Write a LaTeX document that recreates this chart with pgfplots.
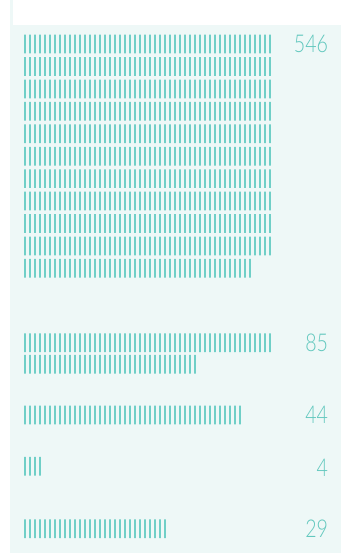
\documentclass[border=0pt]{standalone}
\usepackage{pgfplots}
\pgfplotsset{compat=1.18}
\usepackage{pgfplotstable}
\usepackage{fontspec}
\setmainfont{Lato}[UprightFont=* Light, FakeStretch=0.8]
\usetikzlibrary{patterns.meta,calc}

\definecolor{panel}{HTML}{EEF8F7}
\definecolor{markc}{HTML}{6FCFC7}
\definecolor{numc}{HTML}{62C8BE}

% one line per row of tally marks: row centre (px from top), marks in the row
% 546 = 10x50 + 46, 85 = 50 + 35
\pgfplotstableread{
y n
44.0 50
66.4 50
88.9 50
111.3 50
133.7 50
156.2 50
178.6 50
201.0 50
223.4 50
245.9 50
268.3 46
342.7 50
364.2 35
415.0 44
466.3 4
528.8 29
}\rows

% totals shown on the right
\pgfplotstableread{
x y total
61.24 43.9 546
61.24 342.6 85
61.24 415.3 44
61.24 467.5 4
61.24 529.0 29
}\totals

\begin{document}
\begin{tikzpicture}
\begin{axis}[
    scale only axis,
    width=331pt, height=527.5pt,
    xmin=-2.42, xmax=63.78,
    ymin=25, ymax=552.5,
    y dir=reverse,
    axis line style={draw=none},
    xtick=\empty, ytick=\empty,
    axis background/.style={fill=panel},
    clip=false,
]
\addplot[xbar, bar width=18.7pt, draw=none,
    pattern={Lines[angle=90, distance=5pt, line width=1.9pt, xshift=4.6pt]},
    pattern color=markc]
    table[x=n, y=y] {\rows};
\addplot[draw=none, mark=none, nodes near coords,
    point meta=explicit symbolic,
    every node near coord/.style={anchor=east, inner sep=0pt, text=numc,
        font=\fontsize{24.5}{24.5}\selectfont}]
    table[x=x, y=y, meta=total] {\totals};
\end{axis}
\pgfresetboundingbox
\fill[panel] (current axis.north west) rectangle ++(3.3pt,25pt);
\path[use as bounding box] ($(current axis.south west)+(-10pt,-7.5pt)$)
    rectangle ($(current axis.north east)+(0pt,25pt)$);
\end{tikzpicture}
\end{document}
